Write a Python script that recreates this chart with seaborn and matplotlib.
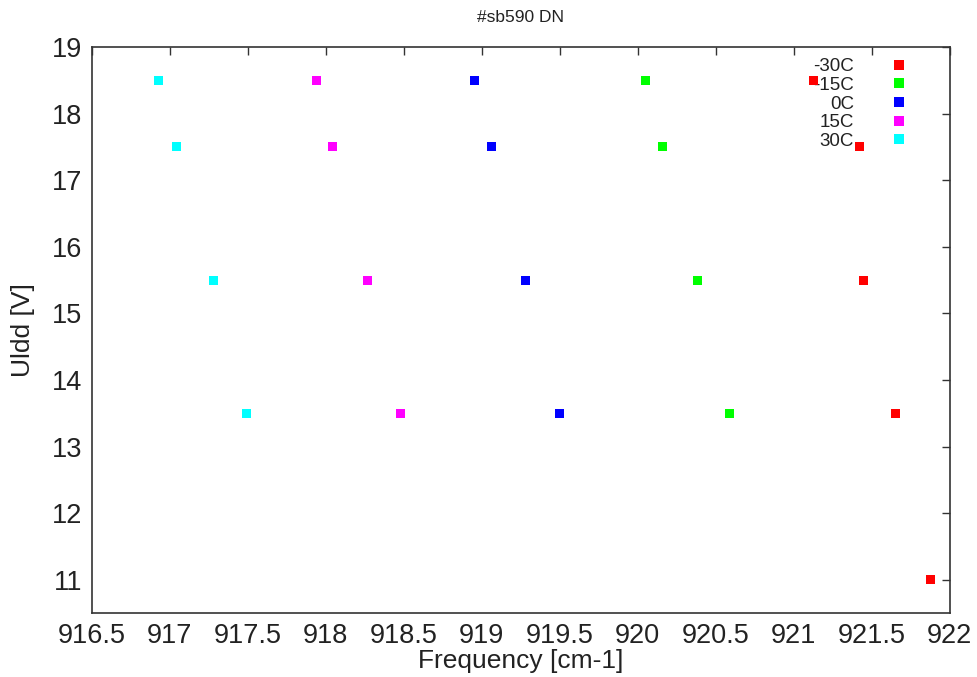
import numpy as np
import pandas as pd
import matplotlib
matplotlib.use('Agg')
import matplotlib.pyplot as plt
import seaborn as sns
from matplotlib.lines import Line2D

# values
labels = ['-30C', '-15C', '0C', '15C', '30C']
colors = ['#ff0000', '#00ff00', '#0000ff', '#ff00ff', '#00ffff']

uldd_m30 = [18.5, 17.5, 15.5, 13.5, 11.0]
freq_m30 = [921.13, 921.42, 921.45, 921.65, 921.88]

uldd_m15 = [18.5, 17.5, 15.5, 13.5]
freq_m15 = [920.05, 920.16, 920.38, 920.59]

uldd_0 = [18.5, 17.5, 15.5, 13.5]
freq_0 = [918.95, 919.06, 919.28, 919.50]

uldd_15 = [18.5, 17.5, 15.5, 13.5]
freq_15 = [917.94, 918.04, 918.27, 918.48]

uldd_30 = [18.5, 17.5, 15.5, 13.5]
freq_30 = [916.93, 917.04, 917.28, 917.49]

x_ticks = [916.5, 917, 917.5, 918, 918.5, 919, 919.5, 920, 920.5, 921, 921.5, 922]
x_ticklabels = ['916.5', '917', '917.5', '918', '918.5', '919', '919.5', '920', '920.5', '921', '921.5', '922']
y_ticks = [11, 12, 13, 14, 15, 16, 17, 18, 19]

frames = []
for lab, f, u in zip(labels,
                     [freq_m30, freq_m15, freq_0, freq_15, freq_30],
                     [uldd_m30, uldd_m15, uldd_0, uldd_15, uldd_30]):
    frames.append(pd.DataFrame({'freq': f, 'uldd': u, 'temp': lab}))
df = pd.concat(frames, ignore_index=True)

sns.set_style('white')
plt.rcParams['font.family'] = ['Liberation Sans', 'DejaVu Sans']

fig = plt.figure(figsize=(9.78, 6.77), dpi=100)
ax = fig.add_axes([0.094, 0.0945, 0.877, 0.836])

sns.scatterplot(data=df, x='freq', y='uldd', hue='temp', hue_order=labels,
                palette=colors, marker='s', s=42, linewidth=0, legend=False,
                ax=ax, zorder=3)

ax.set_xlim(916.5, 922)
ax.set_ylim(10.5, 19)
ax.set_xticks(x_ticks)
ax.set_xticklabels(x_ticklabels)
ax.set_yticks(y_ticks)
ax.tick_params(direction='in', length=6, width=1, top=True, right=True,
               labelsize=19.5, color='#333333', labelcolor='#222222', pad=7)
for sp in ax.spines.values():
    sp.set_color('#333333')
    sp.set_linewidth(1.2)

ax.set_xlabel('Frequency [cm-1]', fontsize=19, labelpad=0, color='#222222')
ax.set_ylabel('Uldd [V]', fontsize=19, labelpad=12, color='#222222')
ax.set_title('#sb590 DN', fontsize=12.5, pad=18, color='#222222')

handles = [Line2D([], [], marker='s', linestyle='', color=c, markersize=7,
                  markeredgewidth=0) for c in colors]
leg = ax.legend(handles, labels, loc='upper right', markerfirst=False,
                frameon=False, fontsize=13.5, handletextpad=1.4,
                labelspacing=0.08, borderaxespad=0.2,
                bbox_to_anchor=(0.976, 1.0))
for t in leg.get_texts():
    t.set_color('#222222')
leg.set_zorder(1)

fig.savefig('out.png', dpi=100)
